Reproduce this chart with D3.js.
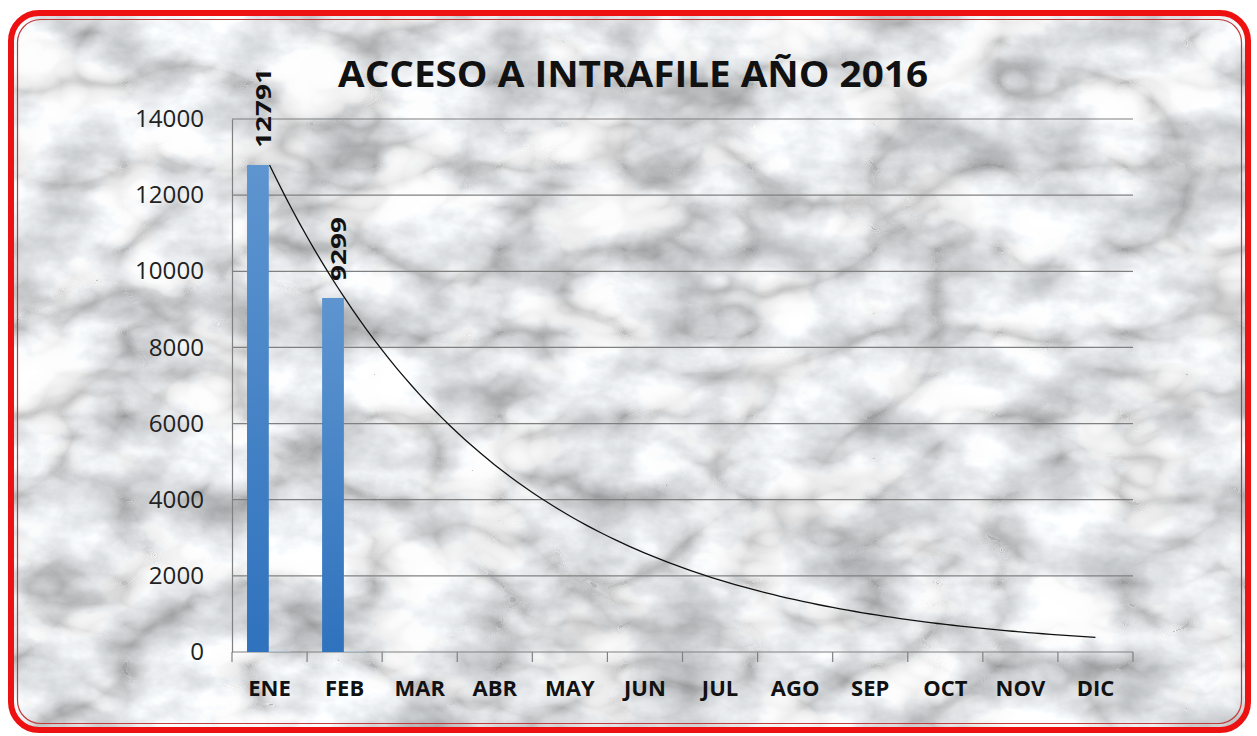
<!DOCTYPE html>
<html>
<head>
<meta charset="utf-8">
<script src="https://cdnjs.cloudflare.com/ajax/libs/d3/7.8.5/d3.min.js"></script>
<style>
  body { margin: 0; background: #fff; }
  svg { display: block; }
</style>
</head>
<body>
<div id="chart"></div>
<script>
// data
var months = ["ENE", "FEB", "MAR", "ABR", "MAY", "JUN", "JUL", "AGO", "SEP", "OCT", "NOV", "DIC"];
var accesos = [12791, 9299, 0, 0, 0, 0, 0, 0, 0, 0, 0, 0];
var secundaria = [30, 30, 0, 0, 0, 0, 0, 0, 0, 0, 0, 0];
var yTicks = [0, 2000, 4000, 6000, 8000, 10000, 12000, 14000];
var title = "ACCESO A INTRAFILE AÑO 2016";

var W = 1257, H = 736;
var margin = { top: 119, right: 124, bottom: 84, left: 232 },
    width = W - margin.left - margin.right,
    height = H - margin.top - margin.bottom;

var svg = d3.select("#chart")
    .append("svg")
    .attr("width", W)
    .attr("height", H);

var defs = svg.append("defs");

// marble-ish texture: grey noise multiplied by darker veins
var f = defs.append("filter").attr("id", "marble")
    .attr("x", 0).attr("y", 0).attr("width", 1).attr("height", 1)
    .attr("color-interpolation-filters", "sRGB");
f.append("feTurbulence")
    .attr("type", "fractalNoise")
    .attr("baseFrequency", "0.011 0.017")
    .attr("numOctaves", 5)
    .attr("seed", 3)
    .attr("result", "n");
f.append("feColorMatrix")
    .attr("in", "n")
    .attr("type", "matrix")
    .attr("values", "0.55 0 0 0 0.66  0.55 0 0 0 0.67  0.55 0 0 0 0.68  0 0 0 0 1")
    .attr("result", "base");
f.append("feTurbulence")
    .attr("type", "turbulence")
    .attr("baseFrequency", "0.008 0.012")
    .attr("numOctaves", 3)
    .attr("seed", 11)
    .attr("result", "t");
f.append("feColorMatrix")
    .attr("in", "t")
    .attr("type", "matrix")
    .attr("values", "1 0 0 0 0  1 0 0 0 0  1 0 0 0 0  0 0 0 0 1")
    .attr("result", "tg");
var ct = f.append("feComponentTransfer").attr("in", "tg").attr("result", "veins");
["feFuncR", "feFuncG", "feFuncB"].forEach(function (fn) {
    ct.append(fn).attr("type", "table").attr("tableValues", "0.76 0.92 0.99 1 1 1");
});
f.append("feComposite")
    .attr("in", "base").attr("in2", "veins")
    .attr("operator", "arithmetic")
    .attr("k1", 1).attr("k2", 0).attr("k3", 0).attr("k4", 0);

var grad = defs.append("linearGradient").attr("id", "barGrad")
    .attr("x1", 0).attr("y1", 0).attr("x2", 0).attr("y2", 1);
grad.append("stop").attr("offset", "0%").attr("stop-color", "#5e95d0");
grad.append("stop").attr("offset", "100%").attr("stop-color", "#2f72bd");

defs.append("clipPath").attr("id", "frame")
    .append("rect")
    .attr("x", 11).attr("y", 13).attr("width", 1237).attr("height", 717).attr("rx", 28);

svg.append("rect")
    .attr("x", 11).attr("y", 13).attr("width", 1237).attr("height", 717)
    .attr("clip-path", "url(#frame)")
    .attr("fill", "#ddd")
    .attr("filter", "url(#marble)");

// border
svg.append("rect")
    .attr("x", 11).attr("y", 13).attr("width", 1237).attr("height", 717).attr("rx", 28)
    .attr("fill", "none").attr("stroke", "#ee1111").attr("stroke-width", 6);
svg.append("rect")
    .attr("x", 17.5).attr("y", 19.5).attr("width", 1224).attr("height", 704).attr("rx", 23)
    .attr("fill", "none").attr("stroke", "#c23a3a").attr("stroke-width", 1.2);

svg.append("text")
    .attr("x", 633)
    .attr("y", 87)
    .attr("text-anchor", "middle")
    .attr("textLength", 590)
    .attr("lengthAdjust", "spacingAndGlyphs")
    .style("font-family", "Open Sans")
    .style("font-weight", "bold")
    .style("font-size", "36px")
    .style("fill", "#111")
    .text(title);

var g = svg.append("g")
    .attr("transform", "translate(" + margin.left + "," + margin.top + ")");

var x = d3.scaleBand()
    .domain(months)
    .range([0, width]);

var x1 = d3.scaleBand()
    .domain(["a", "b"])
    .range([x.bandwidth() * 0.2, x.bandwidth() * 0.78]);

var y = d3.scaleLinear()
    .domain([0, 14000])
    .range([height, 0]);

// gridlines
g.selectAll(".grid")
    .data(yTicks)
    .enter()
    .append("line")
    .attr("x1", 0).attr("x2", width)
    .attr("y1", function (d) { return y(d); })
    .attr("y2", function (d) { return y(d); })
    .attr("stroke", "#808080")
    .attr("stroke-width", 1.2);

var yAxis = g.append("g")
    .call(d3.axisLeft(y).tickValues(yTicks).tickSize(0).tickPadding(28).tickFormat(d3.format("d")));
yAxis.select(".domain").attr("stroke", "#808080").attr("stroke-width", 1.2);
yAxis.selectAll("text")
    .attr("textLength", function (d) { return String(d).length * 13.8; })
    .attr("lengthAdjust", "spacingAndGlyphs")
    .style("font-family", "Open Sans")
    .style("font-size", "24px")
    .style("fill", "#222");

var xAxis = g.append("g")
    .attr("transform", "translate(0," + height + ")")
    .call(d3.axisBottom(x).tickSize(0).tickPadding(28));
xAxis.select(".domain").remove();
xAxis.selectAll("text")
    .style("font-family", "Open Sans")
    .style("font-weight", "bold")
    .style("font-size", "22px")
    .style("fill", "#111");

// tick marks at category boundaries
var bounds = months.map(function (m) { return x(m); }).concat([width]);
g.selectAll(".xt")
    .data(bounds)
    .enter()
    .append("line")
    .attr("x1", function (d) { return d; })
    .attr("x2", function (d) { return d; })
    .attr("y1", height).attr("y2", height + 10)
    .attr("stroke", "#808080")
    .attr("stroke-width", 1.2);

// bars
g.selectAll(".bar")
    .data(accesos)
    .enter()
    .append("rect")
    .attr("x", function (d, i) { return x(months[i]) + x1("a"); })
    .attr("y", function (d) { return y(d); })
    .attr("width", x1.bandwidth())
    .attr("height", function (d) { return height - y(d); })
    .style("fill", "url(#barGrad)");

g.selectAll(".bar2")
    .data(secundaria)
    .enter()
    .append("rect")
    .attr("x", function (d, i) { return x(months[i]) + x1("b"); })
    .attr("y", function (d) { return y(d); })
    .attr("width", x1.bandwidth())
    .attr("height", function (d) { return height - y(d); })
    .style("fill", "#bcd3ee")
    .style("opacity", 0.6);

// data labels
g.selectAll(".lbl")
    .data(accesos.filter(function (d) { return d > 0; }))
    .enter()
    .append("text")
    .attr("transform", function (d, i) {
        var cx = x(months[i]) + x1("a") + x1.bandwidth() / 2 + 5;
        return "translate(" + cx + "," + (y(d) - 17) + ") rotate(-90)";
    })
    .attr("dy", "0.35em")
    .attr("textLength", function (d) { return String(d).length * 16; })
    .attr("lengthAdjust", "spacingAndGlyphs")
    .style("font-family", "Open Sans")
    .style("font-weight", "bold")
    .style("font-size", "22px")
    .style("fill", "#111")
    .text(function (d) { return d; });

// exponential trendline fitted on the non-zero values (like Excel)
var pts = [];
accesos.forEach(function (d, i) { if (d > 0) pts.push([i + 1, Math.log(d)]); });
var mx = d3.mean(pts, function (p) { return p[0]; });
var my = d3.mean(pts, function (p) { return p[1]; });
var b = d3.sum(pts, function (p) { return (p[0] - mx) * (p[1] - my); }) /
        d3.sum(pts, function (p) { return (p[0] - mx) * (p[0] - mx); });
var a = my - b * mx;
var trend = d3.range(1, 12.01, 0.1).map(function (t) { return [t, Math.exp(a + b * t)]; });

var xc = d3.scaleLinear()
    .domain([1, 12])
    .range([x(months[0]) + x.bandwidth() / 2, x(months[11]) + x.bandwidth() / 2]);

g.append("path")
    .datum(trend)
    .attr("fill", "none")
    .attr("stroke", "#111")
    .attr("stroke-width", 1.3)
    .attr("d", d3.line()
        .x(function (d) { return xc(d[0]); })
        .y(function (d) { return y(d[1]); }));
</script>
</body>
</html>
